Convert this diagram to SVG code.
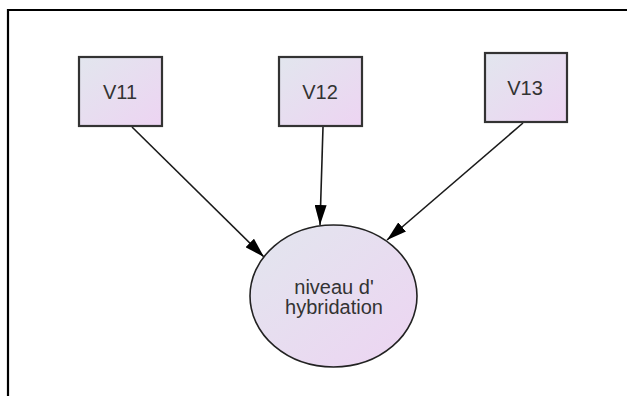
<svg xmlns="http://www.w3.org/2000/svg" width="627" height="396" viewBox="0 0 627 396">
<defs>
<linearGradient id="fill" x1="0" y1="0" x2="1" y2="1">
<stop offset="0" stop-color="#e2e6ee"/>
<stop offset="1" stop-color="#edd4f2"/>
</linearGradient>
<marker id="arrow" viewBox="0 0 20 12" refX="20" refY="6" markerWidth="20" markerHeight="12" markerUnits="userSpaceOnUse" orient="auto">
<path d="M0,0 L20,6 L0,12 Z" fill="#000"/>
</marker>
<style>
.box{fill:url(#fill);stroke:#333;stroke-width:2.2}
.ell{fill:url(#fill);stroke:#222;stroke-width:1.6}
.lbl{font-family:"Liberation Sans",Arial,sans-serif;font-size:20px;fill:#333;text-anchor:middle}
.edge{stroke:#1a1a1a;stroke-width:1.6;fill:none;marker-end:url(#arrow)}
</style>
</defs>
<rect width="627" height="396" fill="#fff"/>
<path d="M8,396 V10 H627" fill="none" stroke="#000" stroke-width="2.2"/>
<g id="connectors">
<line class="edge" x1="132" y1="127" x2="264" y2="257"/>
<line class="edge" x1="323" y1="127" x2="320" y2="225"/>
<line class="edge" x1="523" y1="123" x2="387" y2="240"/>
</g>
<g id="V11">
<rect class="box" x="79" y="57" width="83" height="69"/>
<text class="lbl" x="120" y="99">V11</text>
</g>
<g id="V12">
<rect class="box" x="279" y="57" width="83" height="69"/>
<text class="lbl" x="320" y="99">V12</text>
</g>
<g id="V13">
<rect class="box" x="485" y="53" width="82" height="69"/>
<text class="lbl" x="525" y="95">V13</text>
</g>
<g id="niveau">
<ellipse class="ell" cx="333.5" cy="296" rx="83.5" ry="71"/>
<text class="lbl" x="334" y="294">niveau d'</text>
<text class="lbl" x="334" y="314">hybridation</text>
</g>
</svg>
